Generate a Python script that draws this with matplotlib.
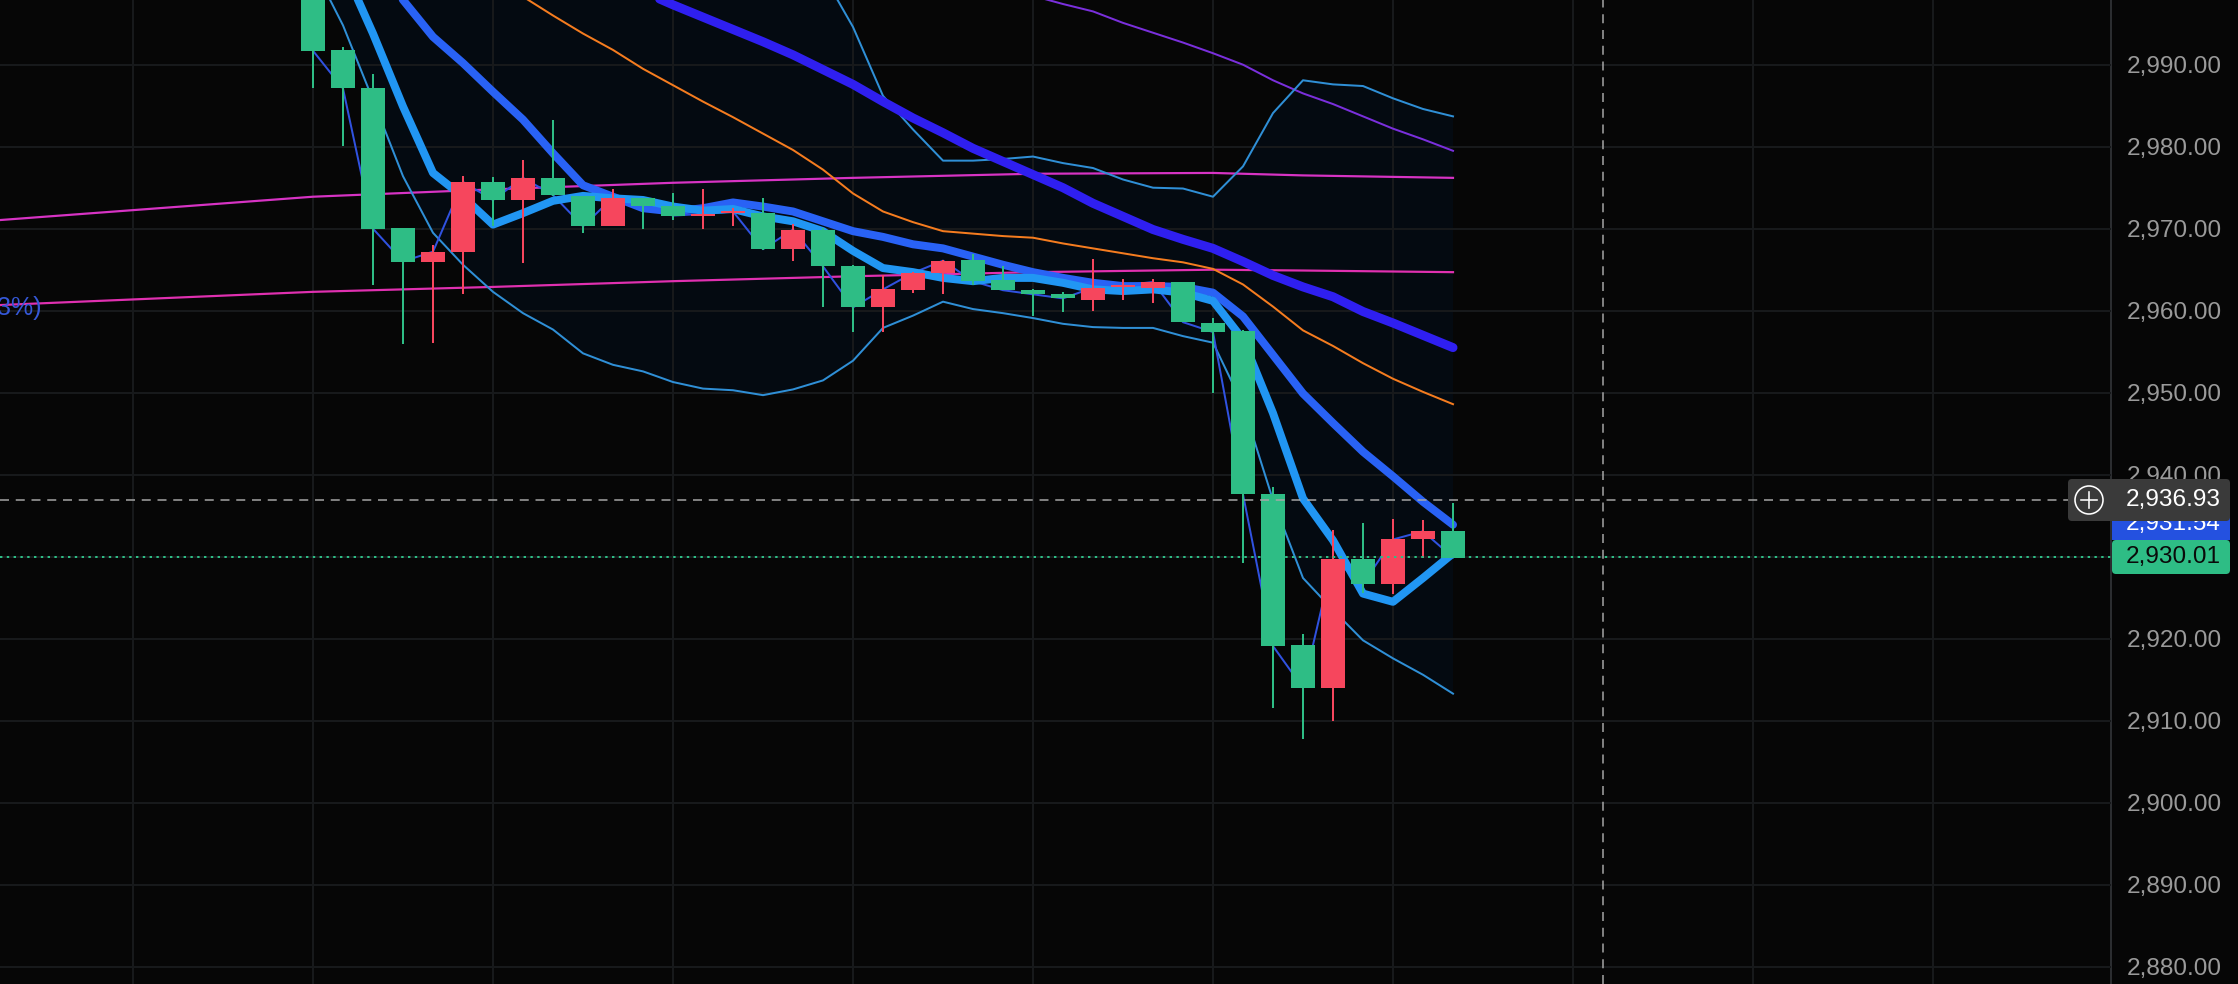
"""
Candlestick chart with moving averages and bands, dark trading-terminal look
"""

import numpy as np
import matplotlib.pyplot as plt
from matplotlib.patches import Circle, FancyBboxPatch, Rectangle

nan = np.nan

# OHLC (first candle is cut by the top edge)
opens = [3003, 2991.8, 2987.2, 2970.1, 2966, 2967.1, 2975.7, 2973.5, 2976.2, 2974, 2970.3, 2973.8, 2972.8,
         2971.6, 2971.9, 2971.9, 2967.5, 2969.9, 2965.5, 2960.4, 2962.5, 2964.6, 2966.2, 2963.7, 2962.5,
         2962, 2961.3, 2962.9, 2962.8, 2963.5, 2958.5, 2957.5, 2937.6, 2919.2, 2914, 2929.7, 2926.7,
         2932.1, 2933.1]
closes = [2991.7, 2987.1, 2970, 2966, 2967.2, 2975.7, 2973.5, 2976.2, 2974.1, 2970.3, 2973.8, 2972.8, 2971.6,
          2971.8, 2972.1, 2967.5, 2969.9, 2965.4, 2960.4, 2962.6, 2964.6, 2966.1, 2963.6, 2962.5, 2962,
          2961.5, 2962.8, 2963.1, 2963.5, 2958.6, 2957.4, 2937.6, 2919.1, 2914, 2929.7, 2926.7, 2932.1,
          2933.1, 2929.9]
highs = [3006, 2992.2, 2988.9, 2970.1, 2968, 2976.4, 2976.3, 2978.4, 2983.3, 2974, 2974.8, 2973.8, 2974.4,
         2974.9, 2972.5, 2973.8, 2970.6, 2970.1, 2965.6, 2964.3, 2964.7, 2966.2, 2966.95, 2965.5, 2962.6,
         2962.3, 2966.3, 2963.9, 2963.9, 2963.5, 2959.1, 2957.7, 2938.5, 2920.6, 2933.3, 2934.1, 2934.6,
         2934.5, 2936.6]
lows = [2987.2, 2980.1, 2963.1, 2955.9, 2956.1, 2962, 2970.3, 2965.8, 2974, 2969.5, 2970.3, 2970, 2971.1,
        2970, 2970.3, 2967.4, 2966.1, 2960.5, 2957.4, 2957.4, 2962.1, 2962, 2963.1, 2962.5, 2959.3,
        2959.9, 2960, 2961.3, 2961, 2958.6, 2950, 2929.2, 2911.6, 2907.8, 2910, 2925.6, 2925.4,
        2929.9, 2929.9]

ema_fast = [3010, 3002, 2993.8, 2984.9, 2976.8, 2973.9, 2970.5, 2971.9, 2973.4, 2974, 2973.7, 2973.5, 2972.7,
            2972.2, 2972.4, 2971.5, 2970.9, 2969.7, 2967.3, 2965.2, 2964.7, 2964, 2963.6, 2964, 2964,
            2963.4, 2962.6, 2962.4, 2962.6, 2962.2, 2961.2, 2956.5, 2947.5, 2937.1, 2932, 2925.5, 2924.5,
            2927.4, 2930.4]
ema_mid = [3015, 3011, 3006, 2997.9, 2993.4, 2990.2, 2986.7, 2983.3, 2979.2, 2975.3, 2973.9, 2972.5, 2972.1,
           2972.5, 2973.2, 2972.7, 2972.1, 2970.9, 2969.7, 2969, 2968.1, 2967.6, 2966.6, 2965.6, 2964.7,
           2964, 2963.4, 2963, 2963, 2962.9, 2962.2, 2959.3, 2954.6, 2949.9, 2946.3, 2942.8, 2939.8,
           2936.7, 2933.9]
ema_slow = [nan, nan, nan, nan, nan, nan, nan, nan, nan, nan, 3000.6, 2998.9, 2997.3,
            2995.8, 2994.3, 2992.8, 2991.2, 2989.4, 2987.6, 2985.5, 2983.5, 2981.7, 2979.8, 2978.2, 2976.6,
            2975, 2973.1, 2971.5, 2969.9, 2968.7, 2967.6, 2966, 2964.3, 2962.9, 2961.7, 2959.9, 2958.5,
            2957, 2955.5]
orange = [nan, nan, nan, nan, nan, 3003, 3000.7, 2998.3, 2996, 2993.8, 2991.8, 2989.5, 2987.5,
          2985.5, 2983.6, 2981.6, 2979.6, 2977.2, 2974.3, 2972.1, 2970.8, 2969.7, 2969.4, 2969.1, 2968.9,
          2968.2, 2967.6, 2967, 2966.4, 2965.9, 2965.1, 2963.2, 2960.5, 2957.6, 2955.7, 2953.6, 2951.7,
          2950.1, 2948.6]
purple = [nan, nan, nan, nan, nan, nan, nan, nan, nan, nan, nan, nan, nan,
          nan, nan, nan, nan, nan, nan, nan, nan, nan, nan, 2999.5, 2998.4,
          2997.4, 2996.5, 2995.1, 2993.9, 2992.7, 2991.4, 2990, 2988.1, 2986.5, 2985.2, 2983.7, 2982.2,
          2980.9, 2979.5]
band_upper = [3060, 3060, 3060, 3060, 3060, 3060, 3060, 3060, 3055, 3050, 3045, 3040, 3035,
              3030, 3025, 3020, 3010, 3001, 2994.6, 2986.2, 2982.1, 2978.3, 2978.3, 2978.5, 2978.8,
              2978, 2977.4, 2976, 2975, 2974.9, 2973.9, 2977.6, 2984.1, 2988.1, 2987.6, 2987.4, 2985.9,
              2984.6, 2983.7]
band_lower = [3002, 2994.8, 2985.7, 2976.4, 2969.5, 2965.6, 2962.3, 2959.7, 2957.7, 2954.8, 2953.4, 2952.6, 2951.3,
              2950.5, 2950.3, 2949.7, 2950.4, 2951.5, 2953.9, 2957.9, 2959.4, 2961.1, 2960.2, 2959.7, 2959.1,
              2958.4, 2958, 2957.9, 2957.9, 2956.9, 2956.1, 2948.5, 2936.9, 2927.4, 2923.5, 2919.8, 2917.6,
              2915.6, 2913.3]

long_x = [-11, 0, 6, 12, 18, 24, 30, 33, 38]
long_upper = [2970.9, 2973.9, 2974.8, 2975.6, 2976.2, 2976.7, 2976.8, 2976.5, 2976.2]
long_lower = [2960.6, 2962.3, 2962.9, 2963.6, 2964.2, 2964.7, 2965, 2964.9, 2964.7]

price_ticks = [2880, 2890, 2900, 2910, 2920, 2930, 2940, 2950, 2960, 2970, 2980, 2990]
last_price = 2930.01
cross_price = 2936.93
ema_label = "2,931.54"

BG = "#060606"
GRID = "#17191b"
GREEN = "#2ebd85"
RED = "#f6465d"
FONT = "Liberation Sans"
px = 0.72  # one pixel in points at dpi 100

idx = np.arange(len(closes))
colors = [GREEN if c < o else RED for o, c in zip(opens, closes)]

fig = plt.figure(figsize=(22.38, 9.84), dpi=100, facecolor=BG)
ax = fig.add_axes([0, 0, 2111 / 2238, 1], facecolor=BG)

ax.fill_between(idx, band_lower, band_upper, color="#040a11", lw=0, zorder=1)
ax.set_xticks(np.arange(-6, 60, 6))
ax.set_yticks(price_ticks)
ax.set_yticklabels([f"{p:,.2f}" for p in price_ticks], family=FONT, fontsize=17.6, color="#9a9a9a")
ax.tick_params(axis="y", length=0, pad=11, right=True, left=False, labelright=True, labelleft=False)
ax.tick_params(axis="x", length=0, labelbottom=False)
ax.grid(True, color=GRID, lw=2 * px, zorder=2)
ax.set_axisbelow(False)
for gl in ax.get_xgridlines() + ax.get_ygridlines():
    gl.set_zorder(2)

# thin lines
ax.plot(long_x, long_upper, color="#d733c4", lw=2.2 * px, zorder=3)
ax.plot(long_x, long_lower, color="#e030b0", lw=2.2 * px, zorder=3)
ax.plot(idx, purple, color="#7a2fdc", lw=2 * px, zorder=3)
ax.plot(idx, orange, color="#f57c1f", lw=2 * px, zorder=3)
ax.plot(idx, band_upper, color="#2f8fd6", lw=2 * px, zorder=3)
ax.plot(idx, band_lower, color="#2f8fd6", lw=2 * px, zorder=3)
ax.plot(idx, closes, color="#3052e0", lw=2 * px, zorder=3)

# thick averages
ax.plot(idx, ema_slow, color="#2f1ff0", lw=9 * px, solid_capstyle="round", zorder=4)
ax.plot(idx, ema_mid, color="#2962f5", lw=8 * px, solid_capstyle="round", zorder=5)
ax.plot(idx, ema_fast, color="#2196f3", lw=8 * px, solid_capstyle="round", zorder=6)

# candles
ax.vlines(idx, lows, highs, colors=colors, lw=2 * px, zorder=7)
body_low = np.minimum(opens, closes)
body_h = np.abs(np.array(opens) - np.array(closes))
ax.bar(idx, body_h, bottom=body_low, width=0.8, color=colors, lw=0, zorder=8)

# crosshair and last price line
ax.axhline(cross_price, color="#a8a8a8", lw=1.5 * px, dashes=(6, 4.5), zorder=9)
ax.axvline((1603 - 313) / 30, color="#a8a8a8", lw=1.5 * px, dashes=(6, 4.5), zorder=9)
ax.axhline(last_price, color=GREEN, lw=2 * px, dashes=(1.2, 2.2), zorder=9)

ax.set_xlim(-313 / 30, (2111 - 313) / 30)
ax.set_ylim(2990 - (984 - 64.7) / 8.2, 2990 + 64.7 / 8.2)
for name in ["top", "left", "bottom"]:
    ax.spines[name].set_visible(False)
ax.spines["right"].set_color("#2b2d30")
ax.spines["right"].set_linewidth(2 * px)

# overlay in pixels for the price tags
ui = fig.add_axes([0, 0, 1, 1], facecolor="none")
ui.set_xlim(0, 2238)
ui.set_ylim(984, 0)
ui.axis("off")

ui.text(41, 308, "3%)", family=FONT, fontsize=18, color="#3558d8", ha="right", va="center")

ui.add_patch(Rectangle((2112, 510), 118, 30, color="#2451e0", lw=0, zorder=1))
ui.text(2126, 524, ema_label, family=FONT, fontsize=17.6, color="white", va="center", zorder=2)
ui.add_patch(FancyBboxPatch((2112, 540), 118, 34, boxstyle="round,pad=0,rounding_size=4",
                            color=GREEN, lw=0, zorder=3))
ui.text(2126, 557, f"{last_price:,.2f}", family=FONT, fontsize=17.6, color="#0a0a0a", va="center", zorder=4)
ui.add_patch(FancyBboxPatch((2071, 482), 156, 36, boxstyle="round,pad=3,rounding_size=4",
                            color="#3a3a3a", lw=0, zorder=5))
ui.text(2126, 500, f"{cross_price:,.2f}", family=FONT, fontsize=17.6, color="white", va="center", zorder=6)
ui.add_patch(Circle((2089, 500), 14, fill=False, ec="white", lw=1.6 * px, zorder=6))
ui.plot([2081, 2097], [500, 500], color="white", lw=1.6 * px, zorder=6)
ui.plot([2089, 2089], [492, 508], color="white", lw=1.6 * px, zorder=6)

fig.savefig("out.png", dpi=100, facecolor=BG)
